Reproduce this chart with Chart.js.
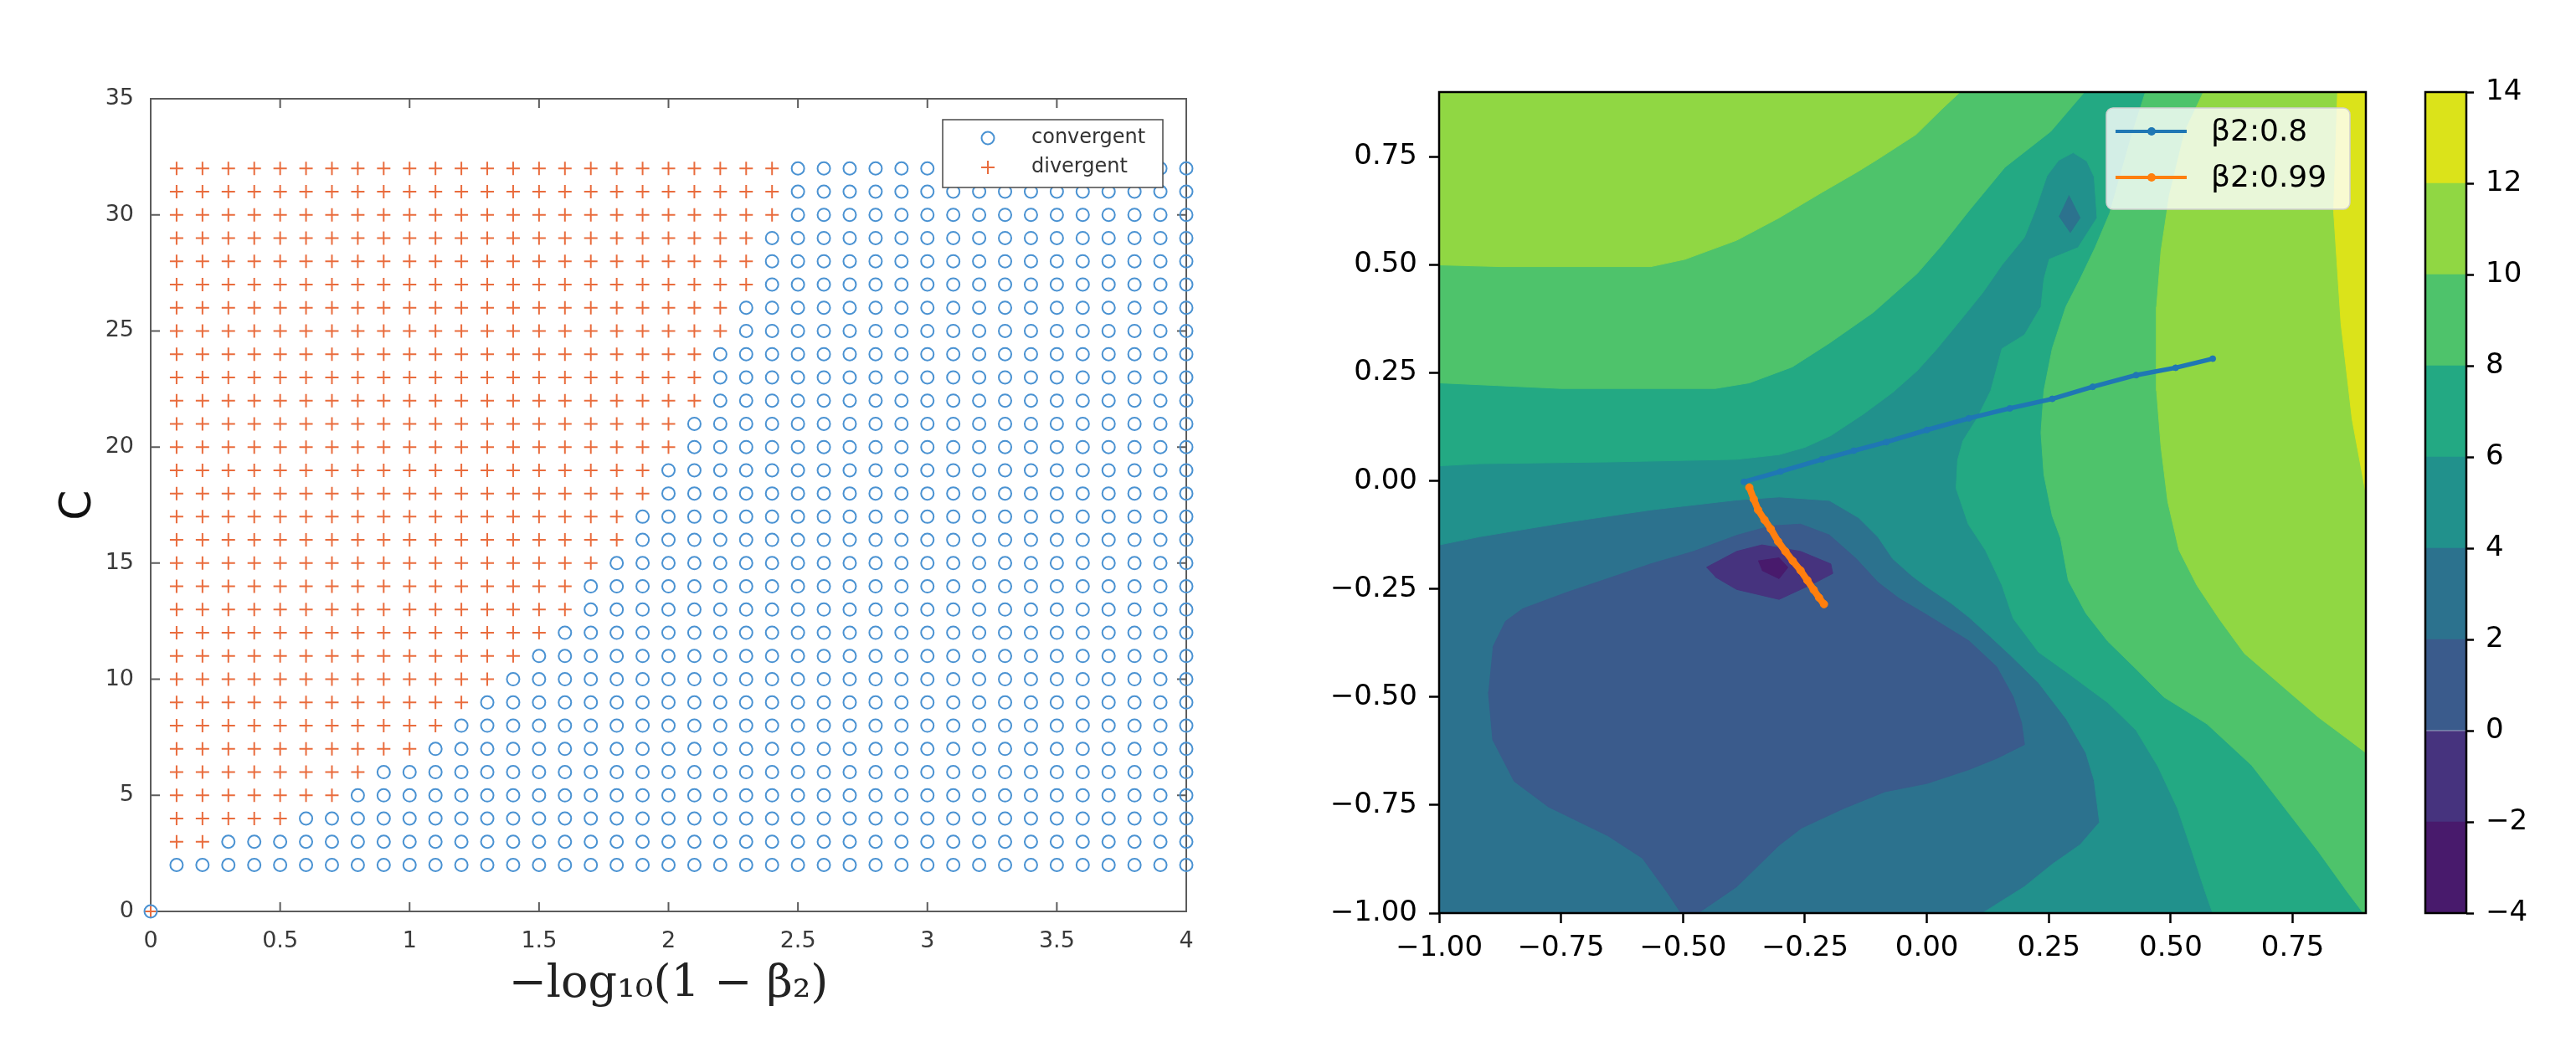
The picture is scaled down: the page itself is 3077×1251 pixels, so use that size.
<!DOCTYPE html>
<html>
<head>
<meta charset="utf-8">
<script src="https://cdn.jsdelivr.net/npm/chart.js@4.4.1/dist/chart.umd.min.js"></script>
<style>
  html, body { margin: 0; padding: 0; background: #fff; }
  #wrap { position: relative; width: 3077px; height: 1251px; overflow: hidden; }
  canvas { position: absolute; top: 0; }
</style>
</head>
<body>
<div id="wrap">
  <canvas id="left" width="1470" height="1251" style="left:0px"></canvas>
  <canvas id="right" width="1300" height="1251" style="left:1560px"></canvas>
  <canvas id="cbar" width="217" height="1251" style="left:2860px"></canvas>
</div>
<script>
// ---------- left panel: convergence grid ----------
const betaCols = [0.1, 0.2, 0.3, 0.4, 0.5, 0.6, 0.7, 0.8, 0.9, 1.0, 1.1, 1.2, 1.3, 1.4, 1.5, 1.6, 1.7, 1.8, 1.9, 2.0,
                  2.1, 2.2, 2.3, 2.4, 2.5, 2.6, 2.7, 2.8, 2.9, 3.0, 3.1, 3.2, 3.3, 3.4, 3.5, 3.6, 3.7, 3.8, 3.9, 4.0];
const cRows = [2, 3, 4, 5, 6, 7, 8, 9, 10, 11, 12, 13, 14, 15, 16, 17, 18, 19, 20, 21, 22, 23, 24, 25, 26, 27, 28, 29, 30, 31, 32];
// first column (per row of C) where the run converged
const firstConvergent = [0.1, 0.3, 0.6, 0.8, 0.9, 1.1, 1.2, 1.3, 1.4, 1.5, 1.6, 1.7, 1.7, 1.8, 1.9, 1.9,
                         2.0, 2.0, 2.1, 2.1, 2.2, 2.2, 2.2, 2.3, 2.3, 2.4, 2.4, 2.4, 2.5, 2.5, 2.5];
const originPoint = [0, 0];
const gridLabels = ['convergent', 'divergent'];

// ---------- right panel: loss contour + trajectories ----------
const levels = [-4, -2, 0, 2, 4, 6, 8, 10, 12, 14];
const bandColors = ['#481a6c', '#46337e', '#3a5b8c', '#2c728e', '#21918c', '#23a983', '#4ec36b', '#90d743', '#dbe31a'];

// region outlines in data coords, painted low to high
const fullDomain = [[-1, -1], [0.9, -1], [0.9, 0.9], [-1, 0.9]];
const above4 = [[-1, -0.148], [-0.917, -0.129], [-0.741, -0.096], [-0.566, -0.067], [-0.39, -0.044], [-0.303, -0.037],
  [-0.2, -0.045], [-0.14, -0.085], [-0.1, -0.13], [-0.07, -0.18], [-0.03, -0.22], [0.0, -0.245], [0.05, -0.283],
  [0.086, -0.315], [0.13, -0.36], [0.171, -0.403], [0.229, -0.467], [0.286, -0.551], [0.326, -0.629], [0.343, -0.693],
  [0.354, -0.79], [0.314, -0.842], [0.257, -0.887], [0.2, -0.939], [0.114, -1.0], [0.9, -1], [0.9, 0.9], [-1, 0.9]];
const above6 = [[-1, 0.035], [-0.917, 0.04], [-0.654, 0.044], [-0.39, 0.05], [-0.303, 0.061], [-0.25, 0.078],
  [-0.197, 0.105], [-0.13, 0.155], [-0.07, 0.205], [-0.02, 0.255], [0.02, 0.305], [0.063, 0.364], [0.114, 0.435],
  [0.154, 0.5], [0.2, 0.564], [0.223, 0.629], [0.246, 0.706], [0.27, 0.742], [0.3, 0.76], [0.328, 0.74], [0.343, 0.704],
  [0.349, 0.609], [0.31, 0.54], [0.251, 0.513], [0.24, 0.467], [0.234, 0.403], [0.2, 0.338], [0.154, 0.306],
  [0.131, 0.209], [0.103, 0.145], [0.074, 0.093], [0.063, 0.048], [0.06, -0.017], [0.085, -0.1], [0.12, -0.16],
  [0.154, -0.241], [0.177, -0.318], [0.229, -0.396], [0.286, -0.442], [0.371, -0.513], [0.429, -0.577], [0.474, -0.661],
  [0.514, -0.758], [0.543, -0.855], [0.571, -0.952], [0.586, -1.0], [0.9, -1], [0.9, 0.9], [-1, 0.9]];
const above8West = [[-1, 0.227], [-0.75, 0.214], [-0.434, 0.214], [-0.364, 0.227], [-0.276, 0.264], [-0.2, 0.319],
  [-0.11, 0.39], [-0.02, 0.48], [0.03, 0.545], [0.086, 0.625], [0.16, 0.726], [0.254, 0.809], [0.323, 0.9], [-1, 0.9]];
const above8East = [[0.448, 0.9], [0.42, 0.8], [0.395, 0.7], [0.375, 0.62], [0.345, 0.54], [0.314, 0.467], [0.285, 0.403],
  [0.257, 0.306], [0.24, 0.209], [0.234, 0.112], [0.24, 0.015], [0.257, -0.08], [0.274, -0.132], [0.29, -0.23],
  [0.326, -0.306], [0.371, -0.371], [0.429, -0.435], [0.486, -0.5], [0.574, -0.562], [0.666, -0.658], [0.727, -0.747],
  [0.803, -0.858], [0.864, -0.954], [0.895, -1.0], [0.9, -1.0], [0.9, 0.9]];
const above10West = [[-1, 0.5], [-0.873, 0.496], [-0.566, 0.496], [-0.496, 0.513], [-0.39, 0.557], [-0.303, 0.609],
  [-0.215, 0.668], [-0.143, 0.715], [-0.1, 0.745], [-0.022, 0.802], [0.031, 0.861], [0.068, 0.9], [-1, 0.9]];
const above10East = [[0.567, 0.9], [0.529, 0.809], [0.497, 0.66], [0.48, 0.532], [0.471, 0.403], [0.471, 0.209],
  [0.48, 0.08], [0.494, -0.048], [0.517, -0.16], [0.554, -0.242], [0.6, -0.32], [0.651, -0.399], [0.727, -0.473],
  [0.803, -0.547], [0.865, -0.599], [0.9, -0.629], [0.9, 0.9]];
const above12 = [[0.842, 0.9], [0.834, 0.624], [0.849, 0.365], [0.872, 0.142], [0.9, -0.028], [0.9, 0.9]];
const valleyPit = [[0.291, 0.661], [0.314, 0.609], [0.294, 0.575], [0.271, 0.613]];
const below2 = [[-0.89, -0.385], [-0.864, -0.325], [-0.829, -0.296], [-0.741, -0.259], [-0.654, -0.226], [-0.566, -0.192],
  [-0.478, -0.163], [-0.39, -0.126], [-0.32, -0.104], [-0.259, -0.1], [-0.2, -0.125], [-0.145, -0.18], [-0.1, -0.235],
  [-0.057, -0.272], [0, -0.31], [0.086, -0.37], [0.143, -0.43], [0.177, -0.5], [0.194, -0.56], [0.2, -0.61],
  [0.143, -0.642], [0.086, -0.668], [0, -0.7], [-0.086, -0.719], [-0.171, -0.758], [-0.257, -0.803], [-0.303, -0.843],
  [-0.39, -0.939], [-0.469, -1.0], [-0.504, -1.0], [-0.531, -0.954], [-0.583, -0.873], [-0.654, -0.821],
  [-0.776, -0.754], [-0.846, -0.695], [-0.89, -0.599], [-0.899, -0.488]];
const below0 = [[-0.452, -0.2], [-0.39, -0.163], [-0.338, -0.148], [-0.259, -0.163], [-0.197, -0.192], [-0.193, -0.214],
  [-0.232, -0.237], [-0.303, -0.274], [-0.39, -0.251], [-0.434, -0.222]];
const belowMinus2 = [[-0.346, -0.185], [-0.303, -0.178], [-0.285, -0.2], [-0.303, -0.226], [-0.338, -0.207]];

const beta08X = [-0.375, -0.30, -0.215, -0.15, -0.083, 0.0, 0.086, 0.17, 0.257, 0.34, 0.429, 0.51, 0.586];
const beta08Y = [-0.002, 0.022, 0.05, 0.07, 0.09, 0.118, 0.145, 0.168, 0.19, 0.218, 0.245, 0.262, 0.283];
const beta099X = [-0.364, -0.355, -0.346, -0.333, -0.320, -0.305, -0.290, -0.275, -0.259, -0.245, -0.232, -0.221, -0.211];
const beta099Y = [-0.015, -0.042, -0.067, -0.090, -0.111, -0.140, -0.163, -0.185, -0.207, -0.230, -0.252, -0.270, -0.285];
const lineLabels = ['β2:0.8', 'β2:0.99'];

Chart.defaults.font.family = "'DejaVu Sans', sans-serif";
Chart.defaults.color = '#000';

const minusFmt = (d) => (v) => v.toFixed(d).replace('-', '\u2212');

// ---------- left chart ----------
const convergentPts = [];
const divergentPts = [];
cRows.forEach((c, i) => {
  betaCols.forEach((b) => {
    if (b >= firstConvergent[i] - 1e-9) convergentPts.push({ x: b, y: c });
    else divergentPts.push({ x: b, y: c });
  });
});
convergentPts.push({ x: originPoint[0], y: originPoint[1] });
divergentPts.push({ x: originPoint[0], y: originPoint[1] });

const blueRing = '#4a92d2';
const redCross = '#e96c3d';

const leftFrame = {
  id: 'leftFrame',
  beforeDatasetsDraw(chart) {
    const { ctx, chartArea: a, scales: { x, y } } = chart;
    ctx.save();
    ctx.strokeStyle = '#5c5c5c';
    ctx.lineWidth = 2;
    ctx.strokeRect(a.left, a.top, a.right - a.left, a.bottom - a.top);
    ctx.beginPath();
    x.ticks.forEach((t) => {
      const px = x.getPixelForValue(t.value);
      ctx.moveTo(px, a.bottom); ctx.lineTo(px, a.bottom - 11);
      ctx.moveTo(px, a.top); ctx.lineTo(px, a.top + 11);
    });
    y.ticks.forEach((t) => {
      const py = y.getPixelForValue(t.value);
      ctx.moveTo(a.left, py); ctx.lineTo(a.left + 11, py);
      ctx.moveTo(a.right, py); ctx.lineTo(a.right - 11, py);
    });
    ctx.stroke();
    ctx.restore();
  },
  afterDatasetsDraw(chart) {
    const { ctx, chartArea: a } = chart;
    const bx = a.right - 291, by = a.top + 25, bw = 263, bh = 81;
    ctx.save();
    ctx.fillStyle = '#fff';
    ctx.fillRect(bx, by, bw, bh);
    ctx.strokeStyle = '#4a4a4a';
    ctx.lineWidth = 1.5;
    ctx.strokeRect(bx, by, bw, bh);
    ctx.font = "24px 'DejaVu Sans'";
    ctx.textBaseline = 'middle';
    ctx.fillStyle = '#333';
    chart.data.datasets.forEach((ds, i) => {
      const cy = by + 22 + i * 35;
      const mx = bx + 54;
      ctx.strokeStyle = ds.borderColor;
      ctx.lineWidth = 2;
      ctx.beginPath();
      if (ds.pointStyle === 'circle') {
        ctx.arc(mx, cy, 7.5, 0, Math.PI * 2);
      } else {
        ctx.moveTo(mx - 8, cy); ctx.lineTo(mx + 8, cy);
        ctx.moveTo(mx, cy - 8); ctx.lineTo(mx, cy + 8);
      }
      ctx.stroke();
      ctx.fillText(ds.label, bx + 106, cy);
    });
    ctx.restore();
  }
};

new Chart(document.getElementById('left'), {
  type: 'scatter',
  data: {
    datasets: [
      { label: gridLabels[0], data: convergentPts, pointStyle: 'circle', pointRadius: 7.5, borderWidth: 2,
        borderColor: blueRing, backgroundColor: 'rgba(0,0,0,0)', clip: false },
      { label: gridLabels[1], data: divergentPts, pointStyle: 'cross', pointRadius: 8, borderWidth: 2,
        borderColor: redCross, backgroundColor: redCross, clip: false }
    ]
  },
  options: {
    responsive: false,
    animation: false,
    events: [],
    layout: { padding: { left: 0, right: 53, top: 118, bottom: 0 } },
    plugins: { legend: { display: false }, tooltip: { enabled: false } },
    scales: {
      x: {
        type: 'linear', min: 0, max: 4,
        grid: { display: false }, border: { display: false },
        ticks: { stepSize: 0.5, padding: 12, color: '#3a3a3a', font: { size: 27 }, maxRotation: 0,
                 callback: (v) => String(Number(v.toFixed(1))) },
        title: { display: true, text: '\u2212log\u2081\u2080(1 \u2212 \u03b2\u2082)', color: '#222',
                 font: { family: "'DejaVu Serif', serif", size: 54 }, padding: { top: 0, bottom: 42 } },
        afterFit(s) { s.height = 162; }
      },
      y: {
        type: 'linear', min: 0, max: 35,
        grid: { display: false }, border: { display: false },
        ticks: { stepSize: 5, padding: 12, color: '#3a3a3a', font: { size: 27 } },
        title: { display: true, text: 'C', color: '#111', font: { size: 52 }, padding: { top: 63, bottom: 0 } },
        afterFit(s) { s.width = 180; }
      }
    }
  },
  plugins: [leftFrame]
});

// ---------- right chart ----------
const contourLayers = [
  [fullDomain, 2], [above4, 4], [above6, 6], [above8West, 8], [above8East, 8],
  [above10West, 10], [above10East, 10], [above12, 12],
  [valleyPit, 2], [below2, 0], [below0, -2], [belowMinus2, -4]
];
const contourSets = contourLayers.map(([poly, floor], i) => {
  const col = bandColors[levels.indexOf(floor)];
  return {
    label: 'z' + floor, data: poly.map(([x, y]) => ({ x, y })),
    showLine: true, fill: 'shape', backgroundColor: col, borderColor: col, borderWidth: 1,
    pointRadius: 0, order: 100 - i
  };
});
const toPts = (xs, ys) => xs.map((x, i) => ({ x, y: ys[i] }));
const trajSets = [
  { label: lineLabels[0], data: toPts(beta08X, beta08Y), showLine: true, fill: false,
    borderColor: '#1f77b4', backgroundColor: '#1f77b4', borderWidth: 5.5, pointRadius: 3.5, pointBorderWidth: 1, order: 2 },
  { label: lineLabels[1], data: toPts(beta099X, beta099Y), showLine: true, fill: false,
    borderColor: '#ff7f0e', backgroundColor: '#ff7f0e', borderWidth: 8, pointRadius: 4.5, pointBorderWidth: 1, order: 1 }
];

const rightDeco = {
  id: 'rightDeco',
  afterDatasetsDraw(chart) {
    const { ctx, chartArea: a } = chart;
    ctx.save();
    ctx.strokeStyle = '#000';
    ctx.lineWidth = 2.5;
    ctx.strokeRect(a.left, a.top, a.right - a.left, a.bottom - a.top);
    // legend
    const bx = a.right - 310, by = a.top + 19, bw = 291, bh = 121;
    ctx.beginPath();
    ctx.roundRect(bx, by, bw, bh, 8);
    ctx.fillStyle = 'rgba(255,255,255,0.8)';
    ctx.fill();
    ctx.strokeStyle = '#d0d0d0';
    ctx.lineWidth = 1.5;
    ctx.stroke();
    ctx.font = "36px 'DejaVu Sans'";
    ctx.textBaseline = 'middle';
    trajSets.forEach((ds, i) => {
      const cy = by + 28 + i * 55;
      ctx.strokeStyle = ds.borderColor;
      ctx.lineWidth = 4;
      ctx.beginPath();
      ctx.moveTo(bx + 11, cy); ctx.lineTo(bx + 96, cy);
      ctx.stroke();
      ctx.fillStyle = ds.borderColor;
      ctx.beginPath();
      ctx.arc(bx + 54, cy, 5, 0, Math.PI * 2);
      ctx.fill();
      ctx.fillStyle = '#000';
      ctx.fillText(ds.label, bx + 125, cy + 2);
    });
    ctx.restore();
  }
};

const axisTickStyle = { drawOnChartArea: false, drawTicks: true, tickLength: 12, tickColor: '#000', tickWidth: 2.5 };

new Chart(document.getElementById('right'), {
  type: 'scatter',
  data: { datasets: contourSets.concat(trajSets) },
  options: {
    responsive: false,
    animation: false,
    events: [],
    layout: { padding: { left: 0, right: 34, top: 110, bottom: 0 } },
    plugins: { legend: { display: false }, tooltip: { enabled: false } },
    scales: {
      x: {
        type: 'linear', min: -1, max: 0.9,
        grid: axisTickStyle, border: { display: false },
        ticks: { stepSize: 0.25, includeBounds: false, padding: 10, font: { size: 34 }, color: '#000',
                 maxRotation: 0, callback: minusFmt(2) },
        afterFit(s) { s.height = 160; }
      },
      y: {
        type: 'linear', min: -1, max: 0.9,
        grid: axisTickStyle, border: { display: false },
        ticks: { stepSize: 0.25, includeBounds: false, padding: 14, font: { size: 34 }, color: '#000',
                 callback: minusFmt(2) },
        afterFit(s) { s.width = 159; }
      }
    }
  },
  plugins: [rightDeco]
});

// ---------- colour bar ----------
const barSets = bandColors.map((col, i) => ({
  label: levels[i] + '..' + levels[i + 1],
  data: [[levels[i], levels[i + 1]]],
  backgroundColor: col, borderWidth: 0,
  barPercentage: 1, categoryPercentage: 1, grouped: false
}));

const barFrame = {
  id: 'barFrame',
  afterDatasetsDraw(chart) {
    const { ctx, chartArea: a } = chart;
    ctx.save();
    ctx.strokeStyle = '#000';
    ctx.lineWidth = 2.5;
    ctx.strokeRect(a.left, a.top, a.right - a.left, a.bottom - a.top);
    ctx.restore();
  }
};

new Chart(document.getElementById('cbar'), {
  type: 'bar',
  data: { labels: [''], datasets: barSets },
  options: {
    responsive: false,
    animation: false,
    events: [],
    layout: { padding: { left: 37, right: 0, top: 110, bottom: 160 } },
    plugins: { legend: { display: false }, tooltip: { enabled: false } },
    scales: {
      x: { display: false },
      y: {
        position: 'right', type: 'linear', min: levels[0], max: levels[levels.length - 1],
        grid: { drawOnChartArea: false, drawTicks: true, tickLength: 9, tickColor: '#000', tickWidth: 2.5 },
        border: { display: false },
        ticks: { stepSize: 2, padding: 14, font: { size: 34 }, color: '#000', callback: minusFmt(0) },
        afterFit(s) { s.width = 131; }
      }
    }
  },
  plugins: [barFrame]
});
</script>
</body>
</html>
